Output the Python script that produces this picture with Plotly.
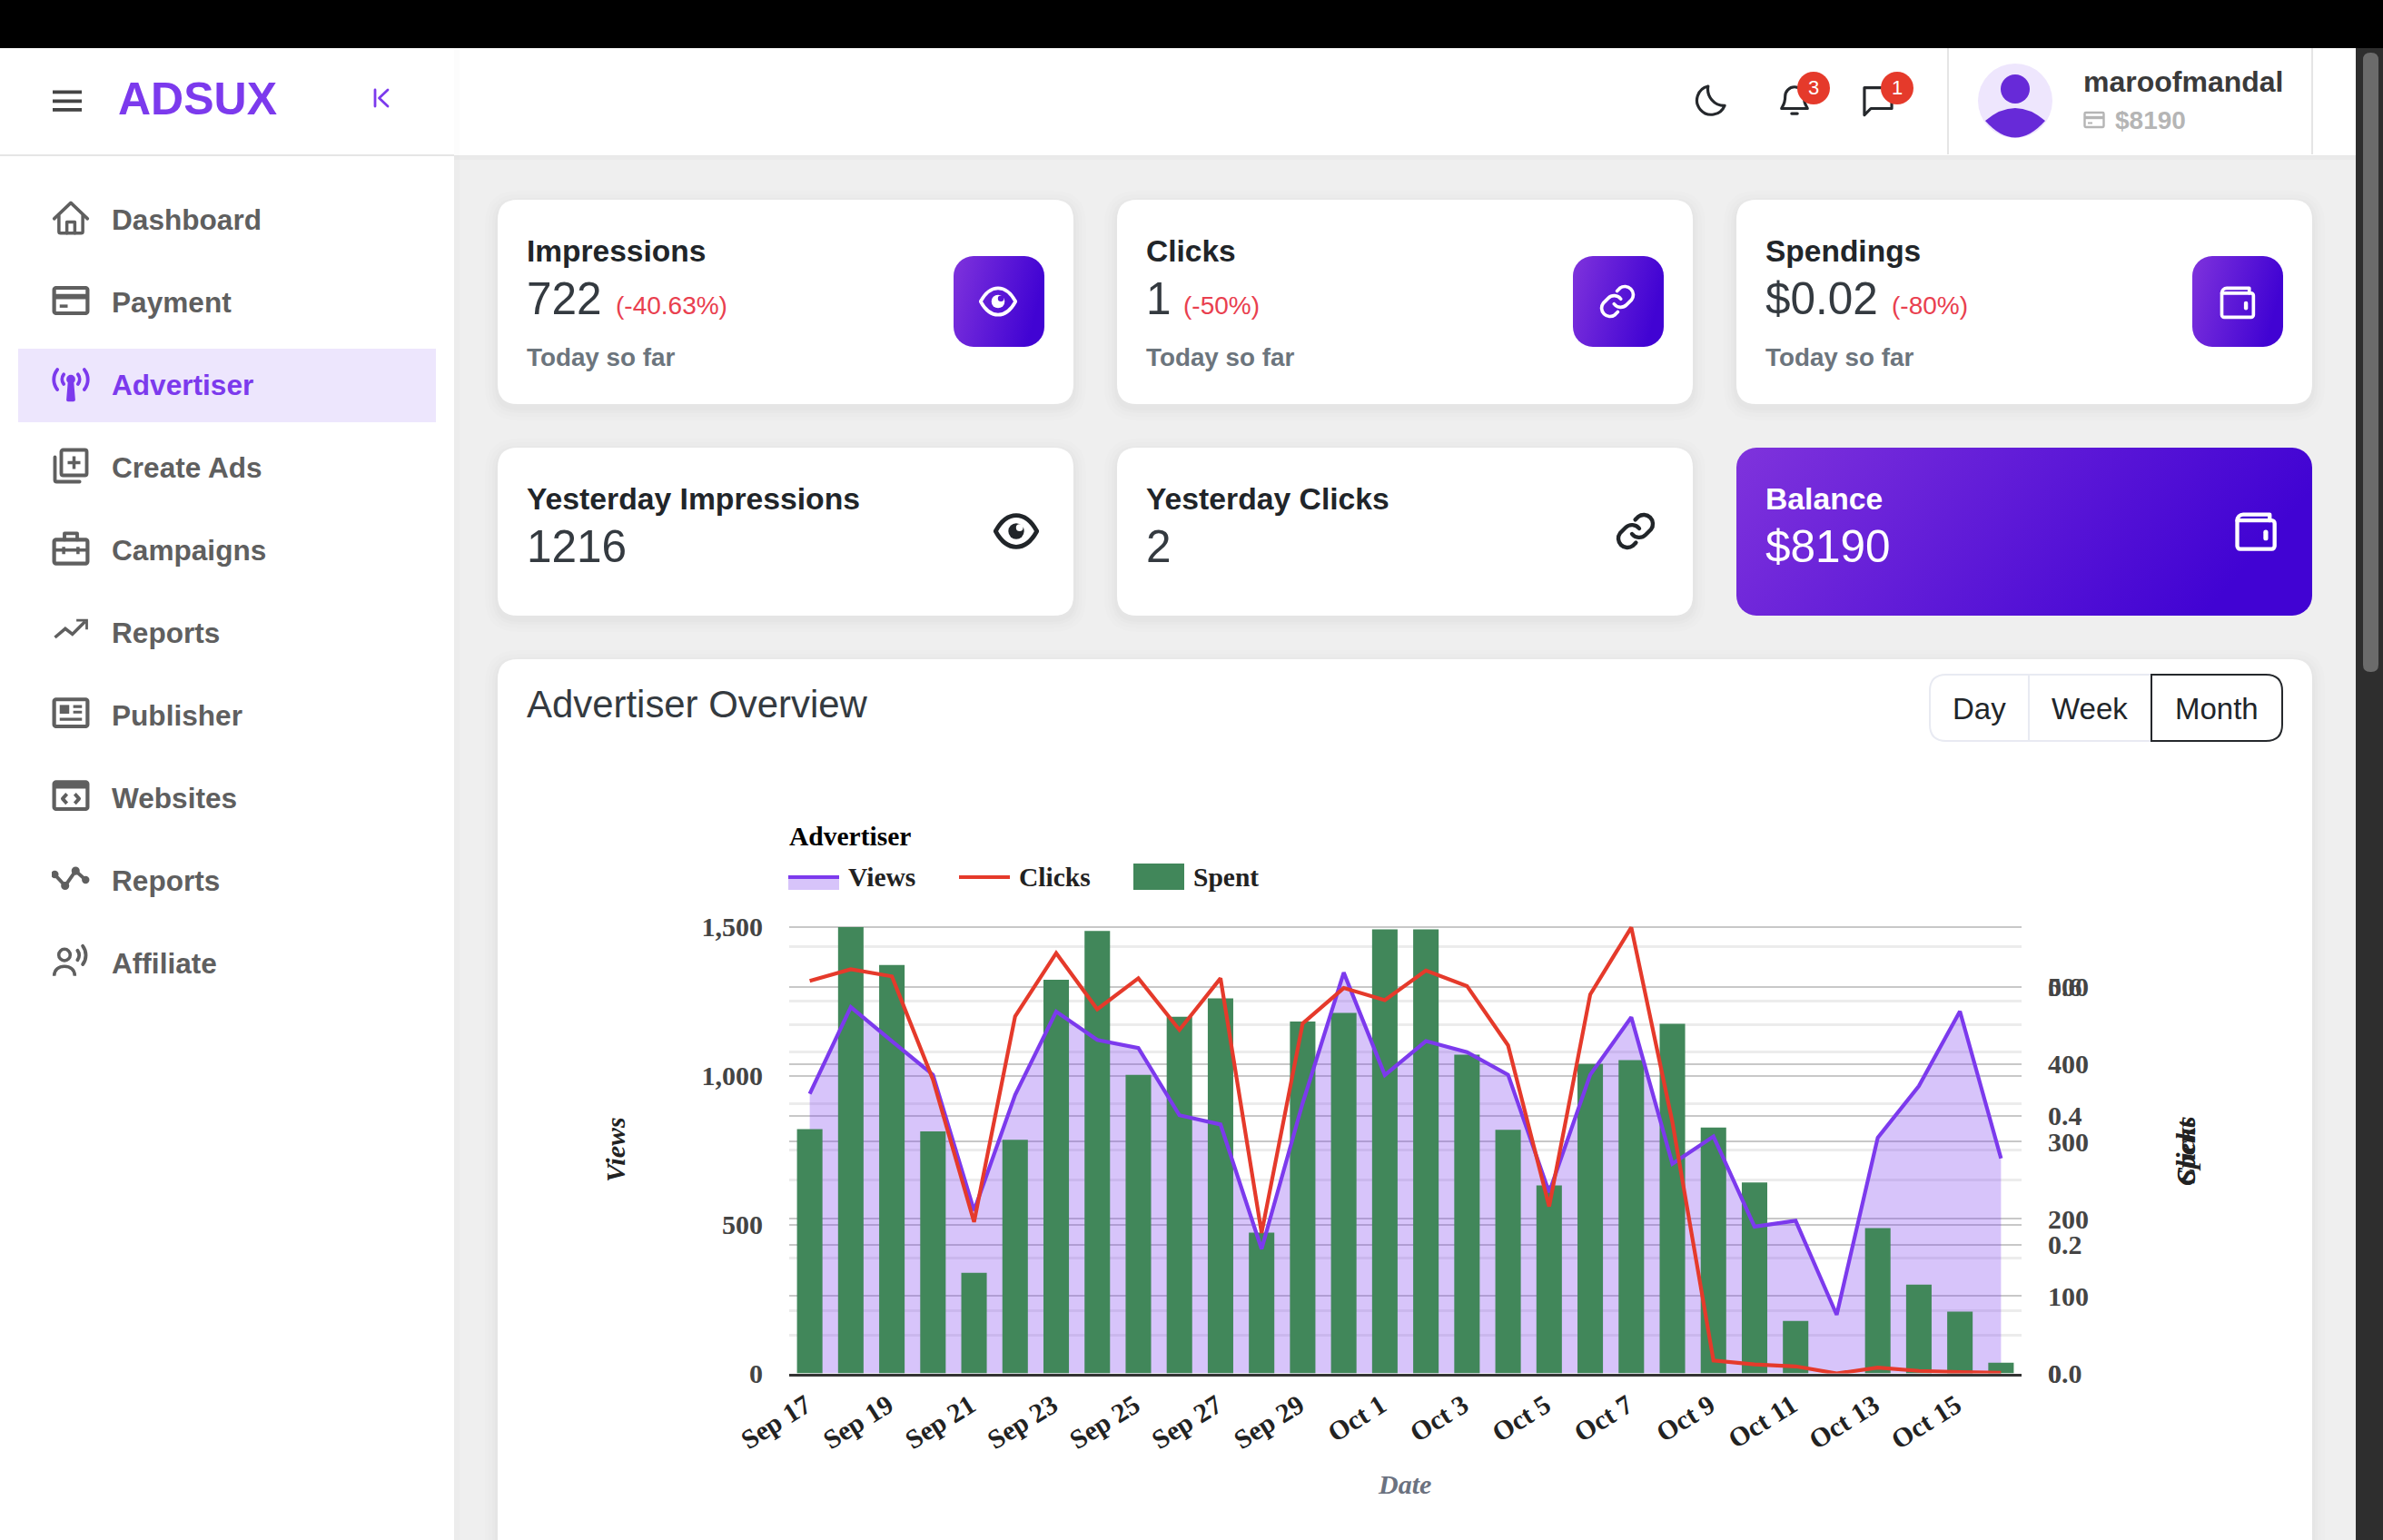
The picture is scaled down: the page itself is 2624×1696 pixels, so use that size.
import base64

import plotly.graph_objects as go

W = 2624
H = 1696

# chart data
dates = [
    "Sep 17", "Sep 18", "Sep 19", "Sep 20", "Sep 21", "Sep 22", "Sep 23", "Sep 24", "Sep 25", "Sep 26",
    "Sep 27", "Sep 28", "Sep 29", "Sep 30", "Oct 1", "Oct 2", "Oct 3", "Oct 4", "Oct 5", "Oct 6",
    "Oct 7", "Oct 8", "Oct 9", "Oct 10", "Oct 11", "Oct 12", "Oct 13", "Oct 14", "Oct 15", "Oct 16",
]
views = [
    939, 1230, 1116, 1003, 547, 935, 1215, 1120, 1093, 867,
    836, 418, 908, 1346, 1002, 1116, 1079, 1003, 608, 1003,
    1196, 704, 796, 493, 513, 197, 792, 965, 1216, 722,
]
clicks = [
    0.609, 0.627, 0.616, 0.456, 0.235, 0.554, 0.652, 0.565, 0.613, 0.533,
    0.613, 0.218, 0.543, 0.598, 0.579, 0.625, 0.601, 0.509, 0.259, 0.588,
    0.692, 0.39, 0.02, 0.014, 0.011, 0.0, 0.009, 0.004, 0.002, 0.001,
]
spent = [
    316, 577, 528, 313, 130, 302, 509, 572, 386, 461,
    485, 182, 455, 466, 574, 574, 412, 315, 243, 400,
    405, 452, 318, 247, 68, 0, 188, 115, 80, 14,
]
x_ticks = dates[::2]
views_ticks = [0, 500, 1000, 1500]
views_faint = [128, 212, 389, 649, 750, 907, 1079, 1170, 1249, 1433]
spent_ticks = [0, 100, 200, 300, 400, 500]
clicks_ticks = [0.0, 0.2, 0.4, 0.6]

menu_items = [
    "Dashboard", "Payment", "Advertiser", "Create Ads", "Campaigns",
    "Reports", "Publisher", "Websites", "Reports", "Affiliate",
]

PURPLE = "#7c3aed"
RED = "#e53a2b"
GREEN = "#41875a"
GREY = "#5f5f5f"
INK = "#212529"
SANS = "Liberation Sans"
SERIF = "Liberation Serif"

shapes = []
images = []
notes = []


def fx(x):
    return x / W


def fy(y):
    return 1 - y / H


def rect(x0, y0, x1, y1, fill, layer="below"):
    shapes.append(dict(type="rect", xref="paper", yref="paper", x0=fx(x0), x1=fx(x1), y0=fy(y0), y1=fy(y1),
                       fillcolor=fill, line=dict(width=0), layer=layer))


def round_path(x0, y0, x1, y1, r):
    # r is (top left, top right, bottom right, bottom left)
    tl, tr, br, bl = r
    pts = [
        ("M", x0 + tl, y0), ("L", x1 - tr, y0), ("Q", x1, y0, x1, y0 + tr),
        ("L", x1, y1 - br), ("Q", x1, y1, x1 - br, y1),
        ("L", x0 + bl, y1), ("Q", x0, y1, x0, y1 - bl),
        ("L", x0, y0 + tl), ("Q", x0, y0, x0 + tl, y0),
    ]
    out = []
    for p in pts:
        nums = p[1:]
        pairs = [f"{fx(nums[i]):.6f},{fy(nums[i + 1]):.6f}" for i in range(0, len(nums), 2)]
        out.append(p[0] + " ".join(pairs))
    return " ".join(out) + " Z"


def rounded(x0, y0, x1, y1, r, fill="rgba(0,0,0,0)", line=None, lw=0, layer="below"):
    if not isinstance(r, tuple):
        r = (r, r, r, r)
    shapes.append(dict(type="path", xref="paper", yref="paper", path=round_path(x0, y0, x1, y1, r),
                       fillcolor=fill, line=dict(color=line or "rgba(0,0,0,0)", width=lw), layer=layer))


def card(x0, y0, x1, y1):
    # soft drop shadow, then the white card
    for grow, alpha in [(14, 0.006), (10, 0.008), (6, 0.01), (3, 0.012)]:
        rounded(x0 - grow, y0 - grow + 4, x1 + grow, y1 + grow + 4, 22 + grow, fill=f"rgba(0,0,0,{alpha})")
    rounded(x0, y0, x1, y1, 22, fill="#ffffff")


def txt(x, y, s, size, color=INK, weight=400, family=SANS, anchor="left", style="normal", angle=0):
    notes.append(dict(x=fx(x), y=fy(y), xref="paper", yref="paper", text=s, showarrow=False, xanchor=anchor,
                      yanchor="middle", textangle=angle, borderpad=0,
                      font=dict(family=family, size=size, color=color, weight=weight, style=style)))


def add_svg(svg, cx, cy, w, h, layer="above"):
    src = "data:image/svg+xml;base64," + base64.b64encode(svg.encode()).decode()
    images.append(dict(source=src, xref="paper", yref="paper", x=fx(cx), y=fy(cy), sizex=w / W, sizey=h / H,
                       xanchor="center", yanchor="middle", sizing="stretch", layer=layer))


def icon(body, cx, cy, size, color, sw=2, notch="#ffffff"):
    body = body.replace("CUR", color).replace("NOTCH", notch)
    svg = (f'<svg xmlns="http://www.w3.org/2000/svg" width="96" height="96" viewBox="0 0 24 24" fill="none" '
           f'stroke="{color}" stroke-width="{sw}" stroke-linecap="round" stroke-linejoin="round">{body}</svg>')
    add_svg(svg, cx, cy, size, size)


def gradient(x0, y0, x1, y1, r):
    w = x1 - x0
    h = y1 - y0
    svg = (f'<svg xmlns="http://www.w3.org/2000/svg" width="{w}" height="{h}" viewBox="0 0 {w} {h}">'
           '<defs><linearGradient id="g" x1="0" y1="0" x2="1" y2="0.25">'
           '<stop offset="0" stop-color="#7f33dc"/><stop offset="1" stop-color="#4103d3"/></linearGradient></defs>'
           f'<rect width="{w}" height="{h}" rx="{r}" fill="url(#g)"/></svg>')
    add_svg(svg, (x0 + x1) / 2, (y0 + y1) / 2, w, h)


ICON_HOME = '<path d="M1.5 12.5 12 2.5 22.5 12.5"/><path d="M4.5 10.5v10a1 1 0 0 0 1 1h13a1 1 0 0 0 1-1v-10"/><path d="M9.5 21.5V14.5h5v7"/>'
ICON_CARD = ('<rect x="1.5" y="4" width="21" height="16" rx="1.2" stroke-width="2.4"/><path d="M2 9.5h20" stroke-width="3.4" stroke-linecap="butt"/>'
             '<path d="M5 15.5h5" stroke-linecap="butt"/>')
ICON_ANTENNA = ('<circle cx="12" cy="9.5" r="1.8" fill="CUR"/><path d="M11.2 10.5h1.6l1 12h-3.6z" fill="CUR"/>'
                '<path d="M7.5 6.5a5 5 0 0 0 0 6M16.5 6.5a5 5 0 0 1 0 6M3.5 3.5a10 10 0 0 0 0 12.5M20.5 3.5a10 10 0 0 1 0 12.5" stroke-width="2.2"/>')
ICON_ADS = ('<rect x="6" y="2" width="16" height="16" rx="1.2" stroke-width="2.2"/><path d="M14 6v8M10 10h8" stroke-linecap="butt"/>'
            '<path d="M2 6.5V21a1 1 0 0 0 1 1h14.5" stroke-width="2.2"/>')
ICON_CASE = ('<rect x="1.5" y="6.5" width="21" height="15" rx="1.2" stroke-width="2.4"/><path d="M8 6.5V2.5h8v4" stroke-width="2.2"/>'
             '<path d="M2 13h20" stroke-linecap="butt"/><path d="M7.5 11v4.5M16.5 11v4.5" stroke-linecap="butt"/>')
ICON_TREND = '<path d="M2 16 8.5 10.5 13 14 21 6" stroke-linecap="butt" stroke-linejoin="miter"/><path d="M15.5 5.2H22V11" stroke-linecap="butt" stroke-linejoin="miter" stroke-width="1.6"/>'
ICON_NEWS = ('<rect x="1.5" y="3" width="21" height="17" rx="1.2" stroke-width="2.4"/><rect x="5" y="6.5" width="6" height="5.5" fill="CUR" stroke="none"/>'
             '<path d="M13.5 7.5h5.5M13.5 11h5.5M5 15.5h14" stroke-linecap="butt" stroke-width="1.8"/>')
ICON_CODE = ('<rect x="1.5" y="3" width="21" height="17" rx="1.2" stroke-width="2.4"/><path d="M2 5.5h20" stroke-width="3.4" stroke-linecap="butt"/>'
             '<path d="M9.5 10.5 6.8 13.5 9.5 16.5M14.5 10.5l2.7 3-2.7 3" stroke-width="2.2" stroke-linecap="butt"/>')
ICON_WAVE = ('<path d="M1.7 9.1 8.4 16.3 15 6.9 21.3 12.6" stroke-width="2.2"/><circle cx="8.4" cy="16.3" r="1.6" fill="CUR"/>'
             '<circle cx="15" cy="6.9" r="1.6" fill="CUR"/><circle cx="1.9" cy="9.1" r="1.4" fill="CUR"/>'
             '<circle cx="21.3" cy="12.6" r="1.4" fill="CUR"/>')
ICON_USERS = ('<circle cx="8" cy="7.8" r="3.6"/><path d="M1.5 21c0-4 3-6 6.5-6s6.5 2 6.5 6" stroke-linecap="butt"/>'
              '<path d="M16.2 5a5 5 0 0 1 0 6M19.5 2.2a9.5 9.5 0 0 1 0 11.5" stroke-width="2.2"/>')
ICON_MOON = '<path d="M10 2.5a10 10 0 1 0 11.5 13.5A11.5 11.5 0 0 1 10 2.5z"/>'
ICON_BELL = ('<path d="M12 3a6.5 6.5 0 0 0-6.5 6.5c0 6-2.5 7.5-2.5 8.5h18c0-1-2.5-2.5-2.5-8.5A6.5 6.5 0 0 0 12 3z"/>'
             '<path d="M10 21.5h4"/>')
ICON_CHAT = '<path d="M2.5 3.5h19v14.5H7L2.5 22.5z"/>'
ICON_EYE = ('<path d="M1.5 12C4.5 6.5 8 4 12 4s7.5 2.5 10.5 8c-3 5.5-6.5 8-10.5 8S4.5 17.5 1.5 12z"/>'
            '<circle cx="12" cy="12" r="4" fill="CUR" stroke="none"/>'
            '<circle cx="13.7" cy="10.2" r="1.8" fill="NOTCH" stroke="none"/>')
ICON_LINK = ('<path d="M10 13.5a5 5 0 0 0 7.5.5l3-3a5 5 0 0 0-7-7l-1.7 1.7"/>'
             '<path d="M14 10.5a5 5 0 0 0-7.5-.5l-3 3a5 5 0 0 0 7 7l1.7-1.7"/>')
ICON_WALLET = ('<path d="M3 7V20a1.5 1.5 0 0 0 1.5 1.5h16A1.5 1.5 0 0 0 22 20V8.5A1.5 1.5 0 0 0 20.5 7H3z"/>'
               '<path d="M3 7a3 3 0 0 1 3-3h13.5V7"/><path d="M17.5 13v3" stroke-width="2.4"/>')

# page chrome
rect(0, 0, W, 53, "#000000", layer="above")
rect(500, 53, 2594, 172, "rgba(0,0,0,0.03)")
rect(500, 172, 2594, 176, "rgba(0,0,0,0.02)")
rect(500, 53, 2594, 171, "#ffffff")
rect(500, 53, 506, H, "rgba(0,0,0,0.012)")
rect(0, 53, 500, H, "#ffffff")
rect(0, 170, 500, 172, "#e5e5e5")
rect(2144, 53, 2146, 170, "#e5e5e5")
rect(2545, 53, 2547, 170, "#e5e5e5")
rect(2594, 53, W, H, "#2e2e2e", layer="above")
rounded(2602, 58, 2619, 740, 8, fill="#6b6b6b", layer="above")

# sidebar
for bar_y in (99.5, 109.5, 119):
    rect(58, bar_y, 90, bar_y + 3.8, "#444444", layer="above")
txt(129, 109, "ADSUX", 50, PURPLE, 700)
icon('<path d="M5 3v18M19 3 9.5 12 19 21"/>', 420, 108, 24, PURPLE, 2.8)
rect(20, 384, 480, 465, "#ede6fd")

menu_icons = [ICON_HOME, ICON_CARD, ICON_ANTENNA, ICON_ADS, ICON_CASE, ICON_TREND, ICON_NEWS, ICON_CODE, ICON_WAVE,
              ICON_USERS]
for i, label in enumerate(menu_items):
    item_y = 242 + i * 91
    colour = PURPLE if label == "Advertiser" else GREY
    txt(122, item_y, label, 31.6, colour, 700)
    icon(menu_icons[i], 78, item_y - 2, 42, colour, 2)

# header
icon(ICON_MOON, 1884, 110, 38, "#25282c", 2)
icon(ICON_BELL, 1976, 110, 38, "#25282c", 2)
icon(ICON_CHAT, 2068, 110, 38, "#25282c", 2)
for bx, n in [(1997, "3"), (2089, "1")]:
    add_svg(f'<svg xmlns="http://www.w3.org/2000/svg" width="36" height="36"><circle cx="18" cy="18" r="18" fill="{RED}"/></svg>',
            bx, 97, 36, 36)
    txt(bx, 97, n, 22, "#ffffff", 400, anchor="center")
add_svg('<svg xmlns="http://www.w3.org/2000/svg" width="82" height="82" viewBox="0 0 82 82">'
        '<circle cx="41" cy="41" r="41" fill="#eee6fd"/><ellipse cx="41" cy="28" rx="16" ry="16" fill="#672ad8"/>'
        '<path d="M8 63Q41 35 74 63Q41 100 8 63z" fill="#672ad8"/></svg>', 2219, 111, 82, 82)
txt(2293, 90, "maroofmandal", 32, "#3a3a3a", 700)
icon(ICON_CARD, 2306, 132, 24, "#b5b5b5", 2)
txt(2328, 133, "$8190", 28, "#b5b5b5", 700)

# stat cards
col_x = [548, 1230, 1912]
stat_cards = [
    ("Impressions", "722", "(-40.63%)", ICON_EYE),
    ("Clicks", "1", "(-50%)", ICON_LINK),
    ("Spendings", "$0.02", "(-80%)", ICON_WALLET),
]
for cx, (title, value, delta, ic) in zip(col_x, stat_cards):
    card(cx, 220, cx + 634, 445)
    txt(cx + 31, 276, title, 33.5, "#212529", 700)
    txt(cx + 31, 328, value, 49.5, "#343a40", 400)
    value_w = {"722": 98, "1": 41, "$0.02": 139}[value]
    txt(cx + 31 + value_w, 336, delta, 28, "#e9404f", 400)
    txt(cx + 31, 393, "Today so far", 27.8, "#6c757d", 700)
    gradient(cx + 502, 282, cx + 602, 382, 22)
    icon(ic, cx + 551, 332, 44, "#ffffff", 2, notch="#5a14d6")

card(col_x[0], 493, col_x[0] + 634, 678)
txt(col_x[0] + 31, 549, "Yesterday Impressions", 33.7, "#212529", 700)
txt(col_x[0] + 31, 601, "1216", 49.5, "#343a40", 400)
icon(ICON_EYE, col_x[0] + 571, 585, 52, "#212529", 2.2)

card(col_x[1], 493, col_x[1] + 634, 678)
txt(col_x[1] + 31, 549, "Yesterday Clicks", 33.7, "#212529", 700)
txt(col_x[1] + 31, 601, "2", 49.5, "#343a40", 400)
icon(ICON_LINK, col_x[1] + 571, 585, 48, "#212529", 2.2)

gradient(col_x[2], 493, col_x[2] + 634, 678, 22)
txt(col_x[2] + 31, 549, "Balance", 33.7, "#ffffff", 700)
txt(col_x[2] + 31, 601, "$8190", 49.5, "#ffffff", 400)
icon(ICON_WALLET, col_x[2] + 571, 584, 52, "#ffffff", 2)

# overview card, runs off the bottom of the page
card(548, 726, 2546, 1800)
txt(579, 775, "Advertiser Overview", 41.9, "#343a40", 400)

rounded(2125, 743, 2370, 816, (18, 0, 0, 18), fill="#ffffff", line="#e8eaf2", lw=2)
rect(2233, 743, 2235, 816, "#e8eaf2")
rounded(2369, 743, 2513, 816, (0, 18, 18, 0), fill="#ffffff", line="#25282c", lw=2)
txt(2179, 780, "Day", 33, INK, anchor="center")
txt(2301, 780, "Week", 33, INK, anchor="center")
txt(2441, 780, "Month", 33, INK, anchor="center")

# chart legend and titles, drawn the way Chart.js lays them out
txt(868, 921, "Advertiser", 29.5, "#000000", 700, SERIF)
rect(868, 965, 924, 980, "rgba(124,58,237,0.3)", layer="above")
rect(868, 964, 924, 968, PURPLE, layer="above")
txt(933, 966, "Views", 29.5, "#222222", 700, SERIF)
rect(1056, 964, 1112, 968, RED, layer="above")
txt(1121, 966, "Clicks", 29.5, "#222222", 700, SERIF)
rect(1248, 951, 1304, 980, GREEN, layer="above")
txt(1313, 966, "Spent", 29.5, "#222222", 700, SERIF)

txt(677, 1266, "Views", 30, "#222222", 700, SERIF, "center", "italic", -90)
txt(2406, 1268, "Spent", 30, "#222222", 700, SERIF, "center", "italic", -90)
txt(2406, 1268, "Clicks", 30, "#222222", 700, SERIF, "center", "italic", -90)
txt(1546, 1634, "Date", 30, "#6b7280", 700, SERIF, "center", "italic")

fig = go.Figure()
fig.add_trace(go.Scatter(x=dates, y=views, mode="none", fill="tozeroy", fillcolor="rgba(124,58,237,0.3)",
                         name="Views", yaxis="y"))
fig.add_trace(go.Bar(x=dates, y=spent, marker=dict(color=GREEN, line=dict(width=0)), name="Spent", yaxis="y2"))
fig.add_trace(go.Scatter(x=dates, y=views, mode="lines", line=dict(color=PURPLE, width=4.2), name="Views",
                         yaxis="y3", cliponaxis=False))
fig.add_trace(go.Scatter(x=dates, y=clicks, mode="lines", line=dict(color=RED, width=4.2), name="Clicks",
                         yaxis="y4", cliponaxis=False))

tick_font = dict(family=SERIF, size=30, color="#444444", weight=700)
# the axes run a few px past the 1,500 line so plotly keeps that grid line
PLOT_TOP = 1014.6
PLOT_BOTTOM = 1512.6
y_domain = [fy(PLOT_BOTTOM), fy(PLOT_TOP)]
stretch = (PLOT_BOTTOM - PLOT_TOP) / 492

fig.update_layout(
    width=W,
    height=H,
    autosize=False,
    margin=dict(l=0, r=0, t=0, b=0, autoexpand=False),
    paper_bgcolor="#efefef",
    plot_bgcolor="rgba(0,0,0,0)",
    showlegend=False,
    bargap=0.38,
    shapes=shapes,
    images=images,
    annotations=notes,
    xaxis=dict(
        domain=[fx(869), fx(2226)],
        type="category",
        categoryorder="array",
        categoryarray=dates,
        range=[-0.5, 29.5],
        tickmode="array",
        tickvals=x_ticks,
        ticktext=x_ticks,
        tickangle=-32,
        tickfont=dict(family=SERIF, size=30, color="#222222", weight=700),
        ticks="outside",
        ticklen=3,
        ticklabelshift=-4,
        tickcolor="rgba(0,0,0,0)",
        showgrid=False,
        showline=True,
        linecolor="#333333",
        linewidth=3,
        zeroline=False,
    ),
    yaxis=dict(
        domain=y_domain,
        range=[0, 1500 * stretch],
        tickmode="array",
        tickvals=views_ticks,
        tickformat=",",
        tickfont=tick_font,
        ticks="outside",
        ticklen=22,
        tickcolor="rgba(0,0,0,0)",
        gridcolor="#c8c8c8",
        gridwidth=2,
        zeroline=False,
        minor=dict(tickmode="array", tickvals=views_faint, showgrid=True, gridcolor="#ececec", gridwidth=2.5, ticks=""),
    ),
    yaxis2=dict(
        domain=y_domain,
        overlaying="y",
        side="right",
        anchor="x",
        range=[0, 577.5 * stretch],
        tickmode="array",
        tickvals=spent_ticks,
        tickfont=tick_font,
        ticks="outside",
        ticklen=22,
        tickcolor="rgba(0,0,0,0)",
        gridcolor="#c8c8c8",
        gridwidth=2,
        zeroline=False,
    ),
    yaxis3=dict(domain=y_domain, overlaying="y", side="left", range=[0, 1500 * stretch], visible=False),
    yaxis4=dict(
        domain=y_domain,
        overlaying="y",
        side="right",
        anchor="x",
        range=[0, 0.693 * stretch],
        tickmode="array",
        tickvals=clicks_ticks,
        tickformat=".1f",
        tickfont=tick_font,
        ticks="outside",
        ticklen=22,
        tickcolor="rgba(0,0,0,0)",
        gridcolor="#c8c8c8",
        gridwidth=2,
        zeroline=False,
    ),
)

fig.write_html("out.html", config=dict(displayModeBar=False),
               post_script="document.body.style.margin='0';document.body.style.overflow='hidden';")
